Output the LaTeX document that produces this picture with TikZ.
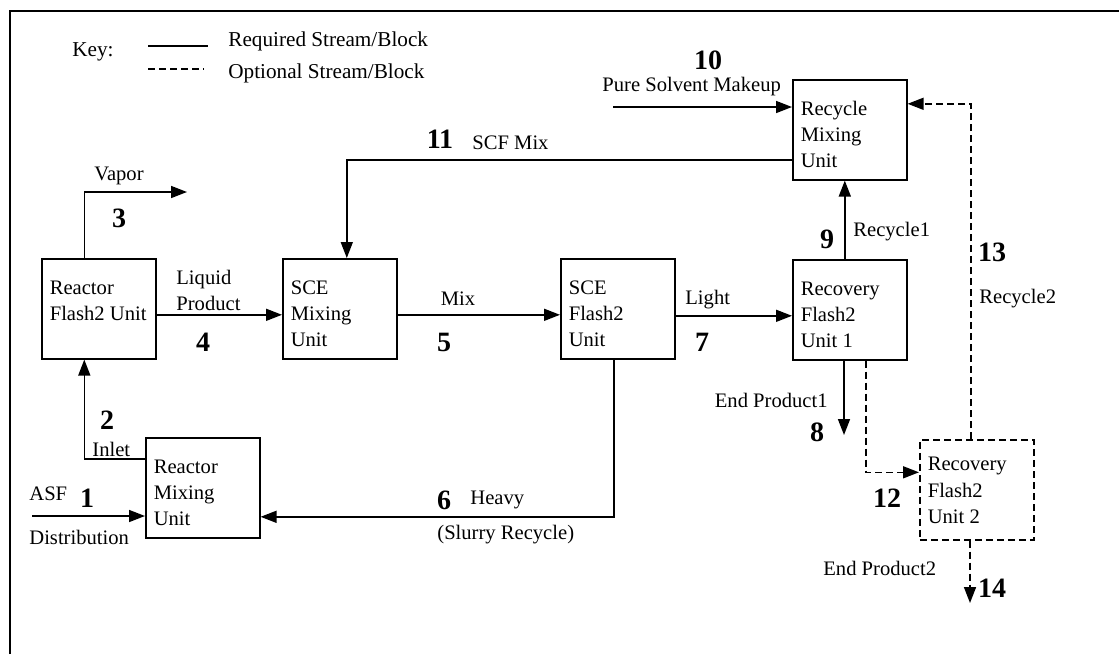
\documentclass[tikz,border=0pt]{standalone}
\usepackage{fontspec}
\setmainfont{Liberation Serif}
\usetikzlibrary{arrows.meta}
\newcommand{\unittext}[2][18pt]{\parbox[t][50pt][t]{49pt}{\rule{0pt}{#1}#2}}

\begin{document}
\begin{tikzpicture}[x=0.5pt, y=-0.5pt,
  unitbox/.style={draw, line width=0.8pt, anchor=north west, inner xsep=4pt, inner ysep=0pt, font=\fontsize{10.3}{13}\selectfont},
  opt/.style={dash pattern=on 3.5pt off 2pt},
  flow/.style={line width=0.8pt, -{Triangle[length=8pt,width=6pt]}},
  lbl/.style={inner sep=0pt, font=\fontsize{10.3}{13}\selectfont},
  num/.style={inner sep=0pt, font=\fontsize{14}{16}\selectfont\bfseries},
  keytxt/.style={inner sep=0pt, anchor=west, font=\fontsize{10.6}{13}\selectfont}
]
\useasboundingbox (0,0) rectangle (1119,654);
\draw[line width=1pt] (10,654) -- (10,11) -- (1119,11);

% key
\node[keytxt] (key) at (72,52) {Key:};
\node[keytxt] (req) at (228,41) {Required Stream/Block};
\node[keytxt] (opn) at (228,73) {Optional Stream/Block};
\coordinate (ks) at (148,46);
\coordinate (kd) at (148,69);
\draw[line width=0.8pt] (ks) -- ++(30pt,0);
\draw[line width=0.8pt, opt] (kd) -- ++(28pt,0);

% units
\node[unitbox] (rfu) at (41,258) {\unittext{Reactor\\Flash2 Unit}};
\node[unitbox] (sme) at (282,258) {\unittext{SCE\\Mixing\\Unit}};
\node[unitbox] (sfl) at (560,258) {\unittext{SCE\\Flash2\\Unit}};
\node[unitbox] (rf1) at (792,259) {\unittext{Recovery\\Flash2\\Unit 1}};
\node[unitbox] (rmx) at (792,79) {\unittext{Recycle\\Mixing\\Unit}};
\node[unitbox] (rmu) at (145,437) {\unittext{Reactor\\Mixing\\Unit}};
\node[unitbox, opt] (rf2) at (919,439) {\unittext[15.5pt]{Recovery\\[0.5pt]Flash2\\Unit 2}};

\coordinate (in1) at (32,516);
\coordinate (vap) at (187,192);
\coordinate (ep1) at (844,435);
\coordinate (psm) at (613,107);
\coordinate (ep2) at (970,603);

% streams
\draw[flow] (in1) -- (in1 -| rmu.west);
\draw[flow] ([yshift=-11pt]rmu.north west) -| ([xshift=-7.25pt]rfu.south);
\draw[flow] ([xshift=-7.25pt]rfu.north) |- (vap);
\draw[flow] ([yshift=-3pt]rfu.east) -- ([yshift=-3pt]sme.west);
\draw[flow] ([yshift=-3pt]sme.east) -- ([yshift=-3pt]sfl.west);
\draw[flow] ([xshift=-2pt]sfl.south) |- ([yshift=-14.5pt]rmu.east);
\draw[flow] ([yshift=-3.5pt]sfl.east) -- ([yshift=-3.5pt]sfl.east -| rf1.west);
\draw[flow] (ep1 |- rf1.south) -- (ep1);
\draw[flow] ([xshift=-2.5pt]rf1.north) -- ([xshift=-2.5pt]rmx.south);
\draw[flow] (psm) -- (psm -| rmx.west);
\draw[flow] ([yshift=-15pt]rmx.west) -| ([xshift=3.5pt]sme.north);
\draw[flow, opt] ([xshift=8pt]rf1.south) |- ([yshift=8.75pt]rf2.west);
\draw[flow, opt] ([xshift=-3pt]rf2.north) |- ([yshift=13pt]rmx.east);
\draw[flow, opt] (ep2 |- rf2.south) -- (ep2);

% stream labels
\node[lbl, anchor=west] (asf) at (29,494) {ASF};
\node[num] (n1) at (87,498) {1};
\node[lbl, anchor=west] (dist) at (29,537) {Distribution};
\node[num] (n2) at (107,420) {2};
\node[lbl, anchor=west] (inl) at (92,449) {Inlet};
\node[lbl] (vpr) at (119,176) {Vapor};
\node[num] (n3) at (119,218) {3};
\node[lbl, anchor=west, align=left] (liq) at (176,290) {Liquid\\Product};
\node[num] (n4) at (203,342) {4};
\node[lbl] (mix) at (458,299) {Mix};
\node[num] (n5) at (444,342) {5};
\node[num] (n6) at (444,500) {6};
\node[lbl, anchor=west] (hvy) at (470,500) {Heavy};
\node[lbl, anchor=west] (slr) at (437,535) {(Slurry Recycle)};
\node[lbl, anchor=west] (lgt) at (685,300) {Light};
\node[num] (n7) at (702,342) {7};
\node[lbl, anchor=east] (epr1) at (828,400) {End Product1};
\node[num] (n8) at (817,432) {8};
\node[num] (n9) at (827,239) {9};
\node[lbl, anchor=west] (rc1) at (853,232) {Recycle1};
\node[num] (n10) at (708,60) {10};
\node[lbl, anchor=west] (pure) at (602,87) {Pure Solvent Makeup};
\node[num] (n11) at (440,139) {11};
\node[lbl, anchor=west] (scf) at (472,143) {SCF Mix};
\node[num] (n12) at (887,498) {12};
\node[num] (n13) at (992,252) {13};
\node[lbl, anchor=west] (rc2) at (979,299) {Recycle2};
\node[num] (n14) at (992,588) {14};
\node[lbl, anchor=west] (epr2) at (823,568) {End Product2};
\end{tikzpicture}
\end{document}
